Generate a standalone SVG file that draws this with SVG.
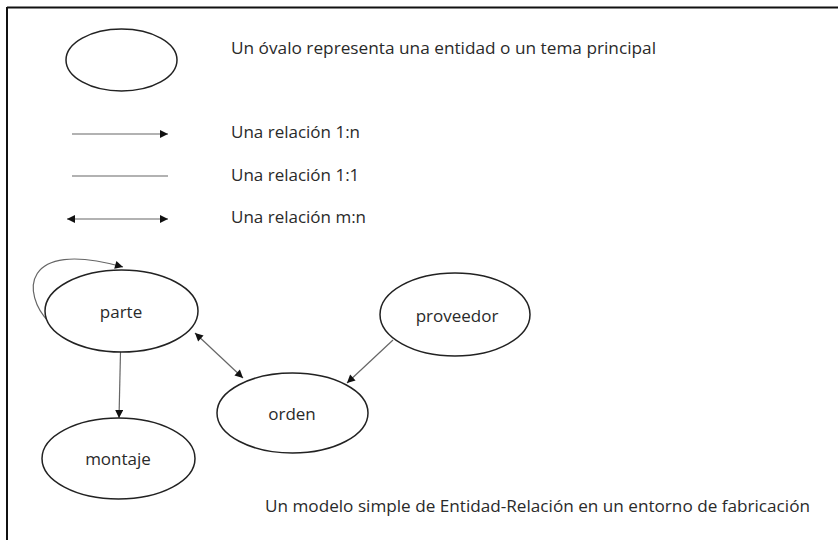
<svg xmlns="http://www.w3.org/2000/svg" width="838" height="540" viewBox="0 0 838 540">
<defs>
<marker id="ah" viewBox="0 0 10 10" refX="10" refY="5" markerWidth="9" markerHeight="8" markerUnits="userSpaceOnUse" orient="auto-start-reverse">
<path d="M0,0 L10,5 L0,10 z" fill="#111"/>
</marker>
<style>
.ent{fill:#fff;stroke:#222;stroke-width:1.5}
.lbl{font-family:"Open Sans","Liberation Sans",sans-serif;font-size:17px;fill:#2a2a2a}
.c{text-anchor:middle}
.ln{fill:none;stroke:#666;stroke-width:1.2}
</style>
</defs>
<rect width="838" height="540" fill="#fff"/>
<g id="frame">
<line x1="7" y1="7.5" x2="838" y2="7.5" stroke="#111" stroke-width="2"/>
<line x1="7" y1="7" x2="7" y2="540" stroke="#111" stroke-width="2"/>
</g>
<g id="legend">
<ellipse class="ent" cx="121.5" cy="60" rx="55.5" ry="31"/>
<text class="lbl" x="231" y="54" textLength="425" lengthAdjust="spacingAndGlyphs">Un óvalo representa una entidad o un tema principal</text>
<line class="ln" x1="72" y1="134" x2="168" y2="134" marker-end="url(#ah)"/>
<text class="lbl" x="231" y="138">Una relación 1:n</text>
<line class="ln" x1="72" y1="176" x2="168" y2="176"/>
<text class="lbl" x="231" y="181">Una relación 1:1</text>
<line class="ln" x1="67" y1="219" x2="168" y2="219" marker-start="url(#ah)" marker-end="url(#ah)"/>
<text class="lbl" x="231" y="223">Una relación m:n</text>
</g>
<g id="connectors">
<path class="ln" d="M49,322 C22,295 20,238 123,267" marker-end="url(#ah)"/>
<line class="ln" x1="120.5" y1="352" x2="119" y2="418" marker-end="url(#ah)"/>
<line class="ln" x1="195" y1="333" x2="243" y2="378" marker-start="url(#ah)" marker-end="url(#ah)"/>
<line class="ln" x1="393" y1="340" x2="347" y2="383" marker-end="url(#ah)"/>
</g>
<g id="parte">
<ellipse class="ent" cx="121.5" cy="311" rx="76.5" ry="41"/>
<text class="lbl c" x="121" y="318">parte</text>
</g>
<g id="montaje">
<ellipse class="ent" cx="118.5" cy="458.5" rx="76.5" ry="40.5"/>
<text class="lbl c" x="118" y="465">montaje</text>
</g>
<g id="orden">
<ellipse class="ent" cx="292.5" cy="413" rx="75.5" ry="40"/>
<text class="lbl c" x="292" y="420">orden</text>
</g>
<g id="proveedor">
<ellipse class="ent" cx="455" cy="314.5" rx="75" ry="41.5"/>
<text class="lbl c" x="457" y="322">proveedor</text>
</g>
<text class="lbl" x="265" y="512" textLength="545" lengthAdjust="spacingAndGlyphs">Un modelo simple de Entidad-Relación en un entorno de fabricación</text>
</svg>
